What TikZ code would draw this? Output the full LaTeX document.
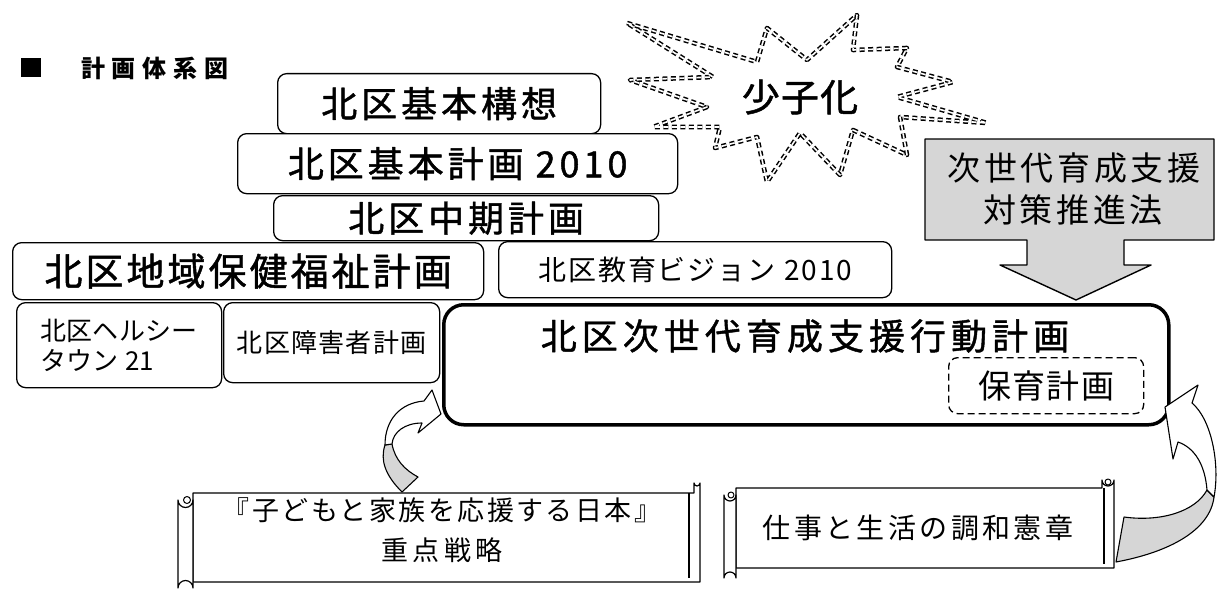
\documentclass[tikz,border=0pt]{standalone}
\usepackage{fontspec}
\setmainfont{Noto Sans CJK JP}
\newcommand\jf[2]{\fontsize{#1}{#1}\selectfont\addfontfeatures{LetterSpace=#2}}
\newcommand\jb[2]{\fontsize{#1}{#1}\selectfont\addfontfeatures{LetterSpace=#2,FakeBold=1.2}}
\tikzset{
  bx/.style={draw, line width=1.3pt, rounded corners=9pt, inner sep=0pt, anchor=north west, fill=white},
  starline/.style={draw, line width=1.5pt, double=white, double distance=1.6pt, dash pattern=on 5pt off 3.5pt},
  shade/.style={fill=black!16},
  scrollline/.style={draw, line width=1.2pt, fill=white},
  ribbon/.style={draw, line width=1.1pt},
}
\begin{document}
\begin{tikzpicture}[x=1pt,y=-1pt,line join=round]
\useasboundingbox (0,0) rectangle (1217,591);

% title
\node[fill=black, minimum width=20pt, minimum height=19pt, inner sep=0pt] (sq) at (30.5,68) {};
\node[font={\bfseries\jf{24}{28}}, anchor=west, inner sep=0pt] (ttl) at (81,68) {計画体系図};

% star
\path[starline] (627,23) -- (757,62) -- (767,28) -- (807,60) -- (857,15) -- (853,50) -- (907,48)
  -- (897,67) -- (953,82) -- (897,97) -- (987,123) -- (900,117) -- (907,155) -- (853,130)
  -- (840,175) -- (800,133) -- (767,182) -- (757,137) -- (715,148) -- (720,127) -- (653,127)
  -- (707,107) -- (630,80) -- (713,77) -- cycle;
\node[font=\jb{38}{3}, inner sep=0pt] (star) at (800,97) {少子化};

% stacked boxes
\node[bx, minimum width=323pt, minimum height=60pt, font=\jb{36}{11}] (A) at (277,73) {北区基本構想};
\node[bx, minimum width=440pt, minimum height=60pt, font=\jb{36}{11}] (B) at (237,133) {北区基本計画 2010};
\node[bx, minimum width=385pt, minimum height=45pt, font=\jb{36}{11}] (C) at (273,195) {北区中期計画};
\node[bx, minimum width=471pt, minimum height=57pt, font=\jb{38}{8}] (D) at (12,242) {北区地域保健福祉計画};
\node[bx, minimum width=393pt, minimum height=56pt, font=\jf{28}{7}] (E) at (498,241) {北区教育ビジョン 2010};
\node[bx, minimum width=205pt, minimum height=85pt, font=\jf{26}{1}, align=left] (F) at (16,302) {北区ヘルシー\\[4pt]タウン 21};
\node[bx, minimum width=216pt, minimum height=80pt, font=\jf{26}{5}] (G) at (223,302) {北区障害者計画};

% main plan box
\node[draw, line width=3.5pt, rounded corners=20pt, anchor=north west, minimum width=725pt, minimum height=120pt, inner sep=0pt] (M) at (442,303) {};
\node[font=\jb{36}{14}, inner sep=0pt] (Mt) at (805,336) {北区次世代育成支援行動計画};
\node[draw, dashed, line width=1.3pt, dash pattern=on 7pt off 4pt, rounded corners=9pt, anchor=north west, minimum width=195pt, minimum height=56pt, inner sep=0pt, font=\jf{33}{4}] (H) at (948,357) {保育計画};

% law arrow box
\coordinate (L1) at (925,139);
\coordinate (L2) at (1214,139);
\coordinate (L3) at (1214,240);
\coordinate (L4) at (1124,240);
\coordinate (L5) at (1124,265);
\coordinate (L6) at (1151,265);
\coordinate (Ltip) at (1076,300);
\coordinate (L7) at (1000,265);
\coordinate (L8) at (1027,265);
\coordinate (L9) at (1027,240);
\coordinate (L10) at (925,240);
\path[draw, line width=1.4pt, shade] (L1) -- (L2) -- (L3) -- (L4) -- (L5) -- (L6) -- (Ltip) -- (L7) -- (L8) -- (L9) -- (L10) -- cycle;
\node[font=\jf{33}{11}, inner sep=0pt] (law1) at (1074,168) {次世代育成支援};
\node[font=\jf{33}{11}, inner sep=0pt] (law2) at (1073,210) {対策推進法};

% scroll 1
\path[scrollline] (193,493) -- (694,493) -- (694,483) arc[start angle=180, end angle=0, radius=3] -- (700,483) -- (700,582) -- (193,582) -- cycle;
\draw[line width=1.2pt] (689,493) -- (689,578);
\path[scrollline] (178,500) arc[start angle=180, end angle=0, radius=7.5] -- (193,588) arc[start angle=0, end angle=-180, radius=7.5] -- cycle;
\draw[line width=1pt] (187,500) circle[radius=3.5];
\node[font=\jf{27}{9}, inner sep=0pt] (S1a) at (442,510) {『子どもと家族を応援する日本』};
\node[font=\jf{27}{15}, inner sep=0pt] (S1b) at (442,550) {重点戦略};

% scroll 2
\path[scrollline] (736,488) -- (1102,488) -- (1102,480) arc[start angle=180, end angle=0, radius=6] -- (1114,568) -- (736,568) -- cycle;
\draw[line width=1pt] (1108,482) circle[radius=3];
\draw[line width=1.2pt] (1104,488) -- (1104,564);
\path[scrollline] (724,495) arc[start angle=180, end angle=0, radius=6] -- (736,578) arc[start angle=0, end angle=-180, radius=6] -- cycle;
\draw[line width=1pt] (731,495) circle[radius=3];
\node[font=\jf{28}{12}, inner sep=0pt] (S2) at (918,528) {仕事と生活の調和憲章};

% left curved arrow (from scroll 1 to main box)
\path[ribbon, shade] (402,492) .. controls (385,475) and (380,460) .. (385,445) -- (392,444) .. controls (395,460) and (405,470) .. (418,477) -- cycle;
\path[ribbon, fill=white] (385,445) .. controls (385,420) and (400,403) .. (424,401) -- (432,390) -- (441,414) -- (418,433) -- (422,423) .. controls (405,423) and (393,432) .. (392,444) -- cycle;

% right curved arrow (from scroll 2 to main box)
\path[ribbon, shade] (1214,497) .. controls (1210,530) and (1170,552) .. (1116,562) -- (1124,517) .. controls (1160,522) and (1195,512) .. (1207,490) -- cycle;
\path[ribbon, fill=white] (1207,490) .. controls (1205,465) and (1195,448) .. (1178,442) -- (1173,459) -- (1165,407) -- (1198,385) -- (1192,403) .. controls (1212,420) and (1220,465) .. (1214,497) -- cycle;

\end{tikzpicture}
\end{document}
